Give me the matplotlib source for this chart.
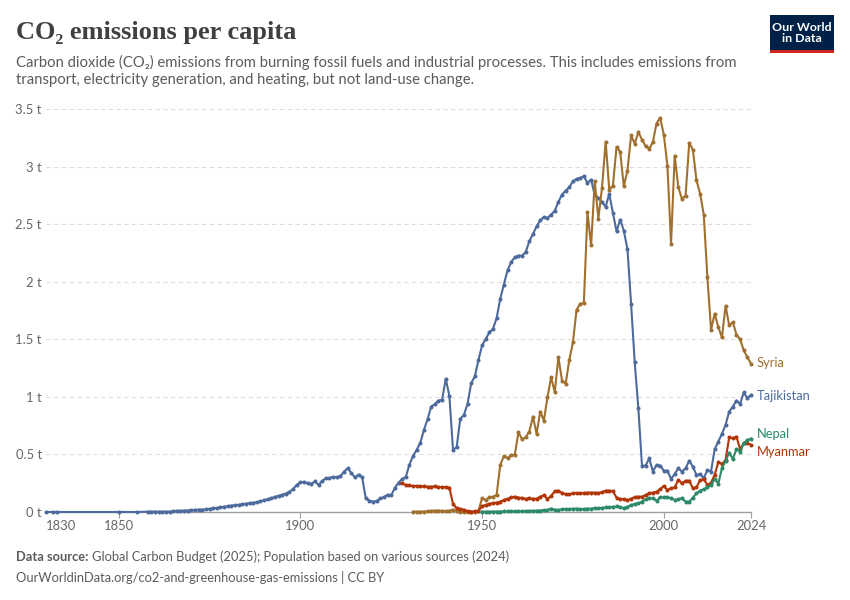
import matplotlib
matplotlib.use("Agg")
import matplotlib.pyplot as plt
from matplotlib.patches import Rectangle

# ---------------- data ----------------
taj_years = [1830, 1832, 1833, 1850, 1855] + list(range(1858, 2025))
taj_values = [0.0, 0.0, 0.0, 0.0, 0.0,
    # 1858-1899
    0.003, 0.003, 0.003, 0.003, 0.003, 0.003, 0.004, 0.005, 0.010, 0.011,
    0.012, 0.013, 0.016, 0.019, 0.020, 0.021, 0.022, 0.028, 0.032, 0.035,
    0.040, 0.046, 0.050, 0.056, 0.060, 0.062, 0.066, 0.072, 0.077, 0.080,
    0.085, 0.093, 0.102, 0.110, 0.120, 0.132, 0.140, 0.150, 0.160, 0.175,
    0.200, 0.235,
    # 1900-1941
    0.258, 0.262, 0.250, 0.245, 0.265, 0.235, 0.270, 0.293, 0.295, 0.305,
    0.300, 0.310, 0.350, 0.380, 0.340, 0.300, 0.325, 0.300, 0.118, 0.098,
    0.090, 0.095, 0.118, 0.130, 0.150, 0.144, 0.210, 0.255, 0.285, 0.305,
    0.410, 0.487, 0.540, 0.600, 0.713, 0.806, 0.916, 0.935, 0.968, 0.974,
    1.157, 1.009,
    # 1942-1993
    0.542, 0.562, 0.810, 0.843, 0.939, 1.119, 1.177, 1.320, 1.447, 1.504,
    1.559, 1.591, 1.684, 1.852, 1.974, 2.099, 2.171, 2.212, 2.226, 2.226,
    2.258, 2.351, 2.414, 2.481, 2.533, 2.562, 2.554, 2.583, 2.617, 2.693,
    2.757, 2.791, 2.820, 2.872, 2.893, 2.901, 2.916, 2.858, 2.887, 2.751,
    2.728, 2.693, 2.649, 2.765, 2.597, 2.438, 2.539, 2.443, 2.284, 1.809,
    1.301, 0.901,
    # 1994-2024
    0.403, 0.403, 0.466, 0.351, 0.409, 0.403, 0.359, 0.359, 0.287, 0.330,
    0.380, 0.351, 0.380, 0.446, 0.394, 0.322, 0.330, 0.293, 0.365, 0.351,
    0.545, 0.612, 0.678, 0.757, 0.872, 0.916, 0.968, 0.939, 1.038, 0.988,
    1.017]

syr_years = list(range(1931, 2025))
syr_values = [
    # 1931-1949
    0.003, 0.003, 0.003, 0.004, 0.005, 0.010, 0.012, 0.012, 0.010, 0.008,
    0.012, 0.020, 0.010, 0.003, 0.003, 0.003, 0.003, 0.003, 0.010,
    # 1950-1983
    0.119, 0.104, 0.127, 0.133, 0.148, 0.409, 0.487, 0.467, 0.496, 0.496,
    0.693, 0.632, 0.649, 0.699, 0.829, 0.678, 0.872, 0.794, 0.997, 1.171,
    1.041, 1.344, 1.141, 1.113, 1.320, 1.474, 1.756, 1.809, 1.814, 2.603,
    2.316, 2.872, 2.548, 2.814,
    # 1984-2024
    3.217, 2.800, 2.835, 3.171, 3.128, 2.829, 2.965, 3.270, 3.200, 3.299,
    3.235, 3.177, 3.154, 3.214, 3.374, 3.423, 3.278, 3.009, 2.330, 3.096,
    2.821, 2.719, 2.748, 3.206, 3.148, 2.881, 2.765, 2.582, 2.038, 1.583,
    1.722, 1.606, 1.516, 1.791, 1.620, 1.649, 1.539, 1.501, 1.403, 1.345,
    1.287]

mya_years = list(range(1928, 2025))
mya_values = [
    # 1928-1949
    0.249, 0.235, 0.232, 0.226, 0.226, 0.222, 0.222, 0.220, 0.220, 0.222,
    0.218, 0.216, 0.216, 0.212, 0.070, 0.032, 0.026, 0.020, 0.005, 0.003,
    0.005, 0.010,
    # 1950-1993
    0.050, 0.061, 0.070, 0.078, 0.081, 0.090, 0.104, 0.115, 0.127, 0.133,
    0.125, 0.122, 0.115, 0.119, 0.115, 0.115, 0.133, 0.145, 0.113, 0.140,
    0.180, 0.186, 0.165, 0.155, 0.152, 0.162, 0.165, 0.162, 0.165, 0.168,
    0.168, 0.168, 0.165, 0.172, 0.186, 0.186, 0.180, 0.125, 0.113, 0.113,
    0.104, 0.115, 0.130, 0.133,
    # 1994-2024
    0.133, 0.148, 0.162, 0.168, 0.177, 0.197, 0.226, 0.191, 0.206, 0.214,
    0.278, 0.249, 0.272, 0.272, 0.206, 0.214, 0.278, 0.284, 0.235, 0.255,
    0.322, 0.432, 0.417, 0.452, 0.649, 0.641, 0.655, 0.545, 0.597, 0.597,
    0.583]

nep_years = list(range(1950, 2025))
nep_values = [
    0.003, 0.003, 0.003, 0.004, 0.004, 0.004, 0.005, 0.005, 0.006, 0.006,
    0.007, 0.008, 0.009, 0.010, 0.010, 0.012, 0.013, 0.015, 0.018, 0.030,
    0.020, 0.018, 0.022, 0.027, 0.025, 0.028, 0.030, 0.025, 0.025, 0.030,
    0.028, 0.035, 0.033, 0.035, 0.040, 0.042, 0.045, 0.048, 0.040, 0.035,
    0.045, 0.060, 0.070, 0.075, 0.090,
    0.110, 0.119, 0.119, 0.096, 0.127, 0.127, 0.127, 0.119, 0.104, 0.110,
    0.119, 0.090, 0.090, 0.125, 0.162, 0.186, 0.197, 0.214, 0.235, 0.288,
    0.246, 0.380, 0.445, 0.515, 0.460, 0.545, 0.525, 0.597, 0.625, 0.638]

series = [
    ("Tajikistan", taj_years, taj_values, "#4C6A9C"),
    ("Syria", syr_years, syr_values, "#A0702F"),
    ("Myanmar", mya_years, mya_values, "#B13507"),
    ("Nepal", nep_years, nep_values, "#2C8A66"),
]
label_values = {"Syria": 1.29, "Tajikistan": 1.01, "Nepal": 0.68, "Myanmar": 0.52}

y_ticks = [0, 0.5, 1, 1.5, 2, 2.5, 3, 3.5]
y_ticklabels = ["0 t", "0.5 t", "1 t", "1.5 t", "2 t", "2.5 t", "3 t", "3.5 t"]
x_ticks = [1830, 1850, 1900, 1950, 2000, 2024]

SANS = ["Lato", "DejaVu Sans"]

# ---------------- figure ----------------
W, H = 850, 600
fig = plt.figure(figsize=(W / 100, H / 100), dpi=100)
fig.patch.set_facecolor("white")

left, right, bottom, top = 46, 751, 512, 109
ax = fig.add_axes([left / W, 1 - bottom / H, (right - left) / W, (bottom - top) / H])
ax.set_xlim(1830, 2024)
ax.set_ylim(0, 3.5)

for name, yrs, vals, col in series:
    ax.plot(yrs, vals, color=col, lw=1.5, marker="o", ms=2.9, mew=0,
            zorder=3, clip_on=False)
    ax.annotate(name, xy=(2024, label_values[name]), xytext=(4, 0),
                textcoords="offset points", va="center", ha="left",
                color=col, fontsize=9.3, family=SANS,
                annotation_clip=False)

ax.set_yticks(y_ticks)
ax.set_yticklabels(y_ticklabels)
ax.set_xticks(x_ticks)
# first label (1830) is drawn left-aligned separately, as in the original
ax.set_xticklabels([""] + [str(t) for t in x_ticks[1:]])
for s in ["top", "right", "left"]:
    ax.spines[s].set_visible(False)
ax.spines["bottom"].set_color("#a0a0a0")
ax.spines["bottom"].set_linewidth(1)
ax.grid(axis="y", color="#dddddd", linestyle=(0, (4, 3)), lw=0.8)
ax.set_axisbelow(True)
ax.tick_params(axis="y", length=0, pad=3, labelsize=9.4, labelcolor="#666666")
ax.tick_params(axis="x", length=4, width=0.8, color="#a0a0a0", pad=1.5,
               labelsize=9.4, labelcolor="#666666")
for lab in ax.get_xticklabels() + ax.get_yticklabels():
    lab.set_family(SANS)
ax.xaxis.get_major_ticks()[0].tick1line.set_visible(False)
ax.text(x_ticks[0], -0.0189, str(x_ticks[0]), transform=ax.get_xaxis_transform(),
        ha="left", va="top", fontsize=9.4, color="#666666", family=SANS)

# ---------------- texts ----------------
fig.text(16 / W, 1 - 32 / H, "CO₂ emissions per capita", fontsize=19,
         weight="bold", family=["Liberation Serif", "DejaVu Serif"],
         color="#404040", va="center", ha="left")
fig.text(16 / W, 1 - 62 / H,
         "Carbon dioxide (CO₂) emissions from burning fossil fuels and industrial processes. This includes emissions from",
         fontsize=10.75, family=SANS, color="#5b5b5b", va="center")
fig.text(16 / W, 1 - 80 / H,
         "transport, electricity generation, and heating, but not land-use change.",
         fontsize=10.75, family=SANS, color="#5b5b5b", va="center")

# logo
fig.patches.append(Rectangle((770 / W, 1 - 50 / H), 64 / W, 35 / H,
                             transform=fig.transFigure, facecolor="#002147",
                             edgecolor="none"))
fig.patches.append(Rectangle((770 / W, 1 - 53 / H), 64 / W, 3 / H,
                             transform=fig.transFigure, facecolor="#CE261E",
                             edgecolor="none"))
fig.text(802 / W, 1 - 33 / H, "Our World\nin Data", color="white", fontsize=8.9,
         weight="bold", family=SANS, ha="center", va="center",
         linespacing=1.0)

# footer
t_bold = fig.text(16 / W, 1 - 557 / H, "Data source:", fontsize=9.3, weight="bold",
                  family=SANS, color="#5b5b5b", va="center")
fig.canvas.draw()
bb = t_bold.get_window_extent()
fig.text((bb.x1 + 4) / W, 1 - 557 / H,
         "Global Carbon Budget (2025); Population based on various sources (2024)",
         fontsize=9.3, family=SANS, color="#5b5b5b", va="center")
fig.text(16 / W, 1 - 577 / H,
         "OurWorldinData.org/co2-and-greenhouse-gas-emissions | CC BY",
         fontsize=9.3, family=SANS, color="#5b5b5b", va="center")

fig.savefig("out.png", dpi=100, facecolor="white")
